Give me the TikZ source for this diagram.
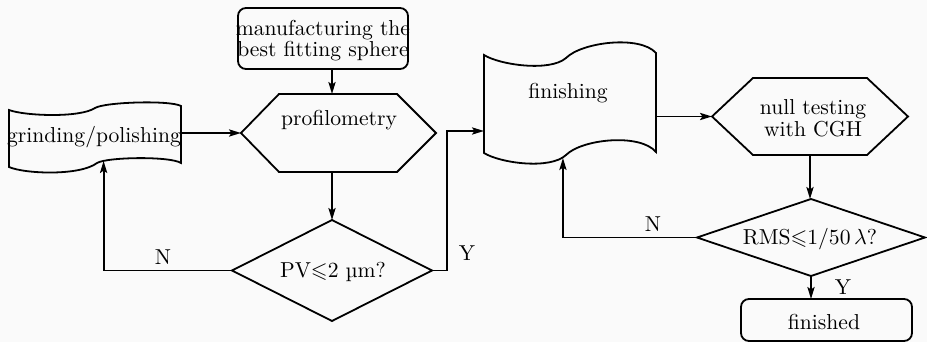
\documentclass[tikz,border=0pt]{standalone}
\usepackage{amssymb}
\usetikzlibrary{arrows.meta,calc,fit}
\begin{document}
\begin{tikzpicture}[x=0.5pt,y=-0.5pt,line width=0.9pt,
  font=\fontsize{10.8}{10.8}\selectfont,
  arr/.style={-{Stealth[length=6pt,width=3.6pt,inset=1.2pt]}},
  frame/.style={inner sep=0pt,outer sep=0pt},
  rbox/.style={frame,draw,rounded corners=4pt},
  lbl/.style={inner sep=0pt,align=center}]
\fill[black!2] (0,0) rectangle (927,342);
\useasboundingbox (0,0) rectangle (927,342);

% ---- frames of the blocks ----
\node[rbox,fit={(238,8) (408,69)}] (man) {};
\node[frame,fit={(241,94) (436,172)}] (prof) {};
\node[frame,fit={(9,106) (181,167)}] (grind) {};
\node[frame,fit={(232,220) (432,321)}] (pv) {};
\node[frame,fit={(484,53) (656,153)}] (fin) {};
\node[frame,fit={(712,78) (908,155)}] (null) {};
\node[frame,fit={(697,199) (925,276)}] (rms) {};
\node[rbox,fit={(741,299) (912,341)}] (done) {};

% hexagons
\draw (prof.west) -- ($(prof.north west)+(38,0)$) -- ($(prof.north east)+(-39,0)$)
  -- (prof.east) -- ($(prof.south east)+(-39,0)$) -- ($(prof.south west)+(38,0)$) -- cycle;
\draw (null.west) -- ($(null.north west)+(41,0)$) -- ($(null.north east)+(-41,0)$)
  -- (null.east) -- ($(null.south east)+(-41,0)$) -- ($(null.south west)+(41,0)$) -- cycle;

% decisions
\draw (pv.west) -- (pv.north) -- (pv.east) -- (pv.south) -- cycle;
\draw (rms.west) -- (rms.north) -- (rms.east) -- (rms.south) -- cycle;

% tape-like process blocks
\draw (9,110) .. controls (25,116) and (80,118) .. (95,108)
  .. controls (105,102) and (170,100) .. (181,106) -- (181,163)
  .. controls (170,156) and (107,157) .. (97,163)
  .. controls (80,176) and (25,174) .. (9,167) -- cycle;
\draw (484,55) .. controls (500,65) and (550,72) .. (566,58)
  .. controls (582,42) and (640,35) .. (656,53) -- (656,152)
  .. controls (640,133) and (582,139) .. (566,155)
  .. controls (550,170) and (500,163) .. (484,153) -- cycle;

% ---- texts ----
\node[lbl] at (323,40.5) {manufacturing the\\best fitting sphere};
\node[lbl] at (339,120) {profilometry};
\node[lbl] at (94,137) {grinding/polishing};
\node[lbl] at (333,272) {PV$\leqslant$2 µm?};
\node[lbl] at (568,93) {finishing};
\node[lbl] at (813,118) {null testing\\with CGH};
\node[lbl] at (810,239) {RMS$\leqslant$1/50\,$\lambda$?};
\node[lbl] at (824,322) {finished};

% ---- connectors ----
\coordinate (gin) at ($(grind.south west)!0.55!(grind.south east)+(0,-6)$);
\coordinate (fin-in) at ($(fin.north west)!0.78!(fin.south west)$);
\coordinate (fin-back) at ($(fin.south west)!0.459!(fin.south east)+(0,5)$);

\draw[arr] (man.south -| pv.north) -- (pv.north |- prof.north);
\draw[arr] (grind.east |- prof.west) -- (prof.west);
\draw[arr] (prof.south -| pv.north) -- (pv.north);
\draw[arr] (pv.west) -| (gin);
\draw[arr] (pv.east) -- ++(15,0) |- (fin-in);
\draw[arr] (fin.east |- null.west) -- (null.west);
\draw[arr] (null.south) -- (null.south |- rms.north);
\draw[arr] (rms.west) -| (fin-back);
\draw[arr] (rms.south) -- (rms.south |- done.north);

% branch labels
\node[lbl] (n1) at (163,257) {N};
\node[lbl] (y1) at (467,253) {Y};
\node[lbl] (n2) at (653,224) {N};
\node[lbl] (y2) at (843,287) {Y};
\end{tikzpicture}
\end{document}
